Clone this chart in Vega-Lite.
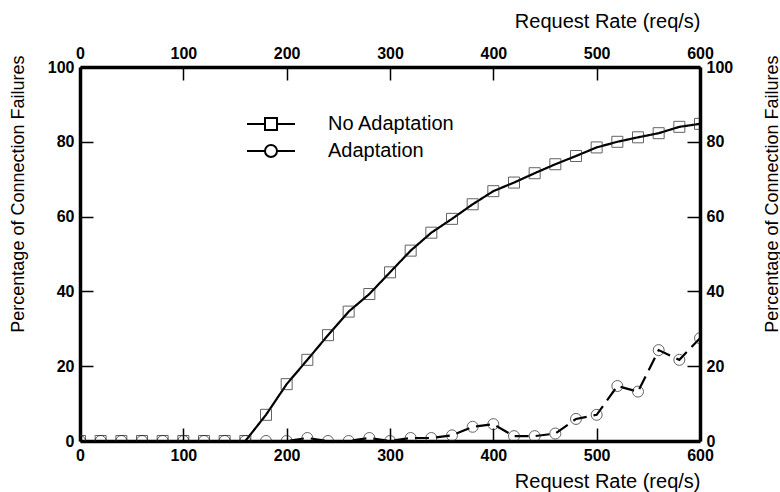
{
  "$schema": "https://vega.github.io/schema/vega-lite/v6.json",
  "width": 620,
  "height": 374,
  "autosize": {"type": "none"},
  "padding": {"left": 80, "top": 67, "right": 80, "bottom": 51},
  "background": "white",
  "config": {
    "view": {"stroke": null},
    "font": "Liberation Sans",
    "axis": {
      "grid": false,
      "domainColor": "black",
      "domainWidth": 3.5,
      "tickColor": "black",
      "tickWidth": 1.5,
      "tickSize": -13,
      "labelFont": "Liberation Sans",
      "labelFontWeight": "bold",
      "labelFontSize": 16,
      "labelColor": "black",
      "labelFlush": false,
      "labelOverlap": false,
      "labelPadding": 19,
      "titleFont": "Liberation Sans",
      "titleFontWeight": "normal",
      "titleFontSize": 20,
      "titleColor": "black",
      "titleAnchor": "end",
      "zindex": 1
    }
  },
  "data": {
    "values": [
      {"rate": 0, "pct": 0, "series": "No Adaptation"},
      {"rate": 20, "pct": 0, "series": "No Adaptation"},
      {"rate": 40, "pct": 0, "series": "No Adaptation"},
      {"rate": 60, "pct": 0, "series": "No Adaptation"},
      {"rate": 80, "pct": 0, "series": "No Adaptation"},
      {"rate": 100, "pct": 0, "series": "No Adaptation"},
      {"rate": 120, "pct": 0, "series": "No Adaptation"},
      {"rate": 140, "pct": 0, "series": "No Adaptation"},
      {"rate": 160, "pct": 0, "series": "No Adaptation"},
      {"rate": 180, "pct": 7.0, "series": "No Adaptation"},
      {"rate": 200, "pct": 15.2, "series": "No Adaptation"},
      {"rate": 220, "pct": 21.7, "series": "No Adaptation"},
      {"rate": 240, "pct": 28.3, "series": "No Adaptation"},
      {"rate": 260, "pct": 34.6, "series": "No Adaptation"},
      {"rate": 280, "pct": 39.3, "series": "No Adaptation"},
      {"rate": 300, "pct": 45.1, "series": "No Adaptation"},
      {"rate": 320, "pct": 50.9, "series": "No Adaptation"},
      {"rate": 340, "pct": 55.7, "series": "No Adaptation"},
      {"rate": 360, "pct": 59.4, "series": "No Adaptation"},
      {"rate": 380, "pct": 63.3, "series": "No Adaptation"},
      {"rate": 400, "pct": 66.8, "series": "No Adaptation"},
      {"rate": 420, "pct": 69.1, "series": "No Adaptation"},
      {"rate": 440, "pct": 71.6, "series": "No Adaptation"},
      {"rate": 460, "pct": 74.0, "series": "No Adaptation"},
      {"rate": 480, "pct": 76.2, "series": "No Adaptation"},
      {"rate": 500, "pct": 78.5, "series": "No Adaptation"},
      {"rate": 520, "pct": 80.0, "series": "No Adaptation"},
      {"rate": 540, "pct": 81.2, "series": "No Adaptation"},
      {"rate": 560, "pct": 82.3, "series": "No Adaptation"},
      {"rate": 580, "pct": 84.0, "series": "No Adaptation"},
      {"rate": 600, "pct": 84.8, "series": "No Adaptation"},
      {"rate": 0, "pct": 0, "series": "Adaptation"},
      {"rate": 20, "pct": 0, "series": "Adaptation"},
      {"rate": 40, "pct": 0, "series": "Adaptation"},
      {"rate": 60, "pct": 0, "series": "Adaptation"},
      {"rate": 80, "pct": 0, "series": "Adaptation"},
      {"rate": 100, "pct": 0, "series": "Adaptation"},
      {"rate": 120, "pct": 0, "series": "Adaptation"},
      {"rate": 140, "pct": 0, "series": "Adaptation"},
      {"rate": 160, "pct": 0, "series": "Adaptation"},
      {"rate": 180, "pct": 0, "series": "Adaptation"},
      {"rate": 200, "pct": 0, "series": "Adaptation"},
      {"rate": 220, "pct": 0.8, "series": "Adaptation"},
      {"rate": 240, "pct": 0, "series": "Adaptation"},
      {"rate": 260, "pct": 0, "series": "Adaptation"},
      {"rate": 280, "pct": 0.8, "series": "Adaptation"},
      {"rate": 300, "pct": 0, "series": "Adaptation"},
      {"rate": 320, "pct": 0.8, "series": "Adaptation"},
      {"rate": 340, "pct": 0.8, "series": "Adaptation"},
      {"rate": 360, "pct": 1.5, "series": "Adaptation"},
      {"rate": 380, "pct": 3.8, "series": "Adaptation"},
      {"rate": 400, "pct": 4.5, "series": "Adaptation"},
      {"rate": 420, "pct": 1.3, "series": "Adaptation"},
      {"rate": 440, "pct": 1.3, "series": "Adaptation"},
      {"rate": 460, "pct": 2.0, "series": "Adaptation"},
      {"rate": 480, "pct": 5.9, "series": "Adaptation"},
      {"rate": 500, "pct": 7.0, "series": "Adaptation"},
      {"rate": 520, "pct": 14.7, "series": "Adaptation"},
      {"rate": 540, "pct": 13.2, "series": "Adaptation"},
      {"rate": 560, "pct": 24.3, "series": "Adaptation"},
      {"rate": 580, "pct": 21.7, "series": "Adaptation"},
      {"rate": 600, "pct": 27.5, "series": "Adaptation"}
    ]
  },
  "layer": [
    {
      "mark": {"type": "line", "clip": true, "strokeWidth": 2.2, "color": "black"},
      "encoding": {
        "x": {"field": "rate", "type": "quantitative", "scale": {"domain": [0, 600], "nice": false},
              "axis": {"orient": "bottom", "values": [0, 100, 200, 300, 400, 500, 600], "title": "Request Rate (req/s)", "titlePadding": 8}},
        "y": {"field": "pct", "type": "quantitative", "scale": {"domain": [0, 100], "nice": false},
              "axis": {"orient": "left", "values": [0, 20, 40, 60, 80, 100], "title": "Percentage of Connection Failures", "titleFontSize": 18, "titleX": -62, "titleY": -12, "titleBaseline": "middle"}},
        "detail": {"field": "series"},
        "strokeDash": {"field": "series", "type": "nominal", "scale": {"domain": ["No Adaptation", "Adaptation"], "range": [[1, 0], [14, 7]]}, "legend": null}
      }
    },
    {
      "mark": {"type": "point", "clip": true, "filled": false, "strokeWidth": 1, "color": "#222", "size": 121},
      "encoding": {
        "x": {"field": "rate", "type": "quantitative", "scale": {"domain": [0, 600], "nice": false},
              "axis": {"orient": "top", "values": [0, 100, 200, 300, 400, 500, 600], "title": "Request Rate (req/s)", "titlePadding": 14}},
        "y": {"field": "pct", "type": "quantitative", "scale": {"domain": [0, 100], "nice": false},
              "axis": {"orient": "right", "values": [0, 20, 40, 60, 80, 100], "title": "Percentage of Connection Failures", "titleFontSize": 18, "titleAngle": 270, "titleX": 72, "titleY": -12, "titleBaseline": "middle"}},
        "shape": {"field": "series", "type": "nominal", "scale": {"domain": ["No Adaptation", "Adaptation"], "range": ["square", "circle"]}, "legend": null}
      }
    },
    {
      "mark": {"type": "point", "clip": true, "filled": false, "strokeWidth": 2, "color": "black", "opacity": 0, "size": 400},
      "encoding": {
        "x": {"field": "rate", "type": "quantitative", "scale": {"domain": [0, 600], "nice": false}, "axis": null},
        "y": {"field": "pct", "type": "quantitative", "scale": {"domain": [0, 100], "nice": false}, "axis": null},
        "shape": {"field": "series", "type": "nominal",
          "scale": {"domain": ["No Adaptation", "Adaptation"], "range": ["M-2.4,0H-0.6M0.6,0H2.4M-0.6,-0.6H0.6V0.6H-0.6Z", "M-2.4,0H-0.6M0.6,0H2.4M0.6,0A0.6,0.6 0 1,1 -0.6,0A0.6,0.6 0 1,1 0.6,0Z"]},
          "legend": {
            "orient": "none", "legendX": 180, "legendY": 46, "title": null, "padding": 0,
            "labelFont": "Liberation Sans", "labelFontSize": 20, "labelColor": "black", "labelOffset": 46,
            "symbolSize": 400, "symbolStrokeWidth": 2, "symbolStrokeColor": "black", "symbolFillColor": "transparent", "symbolOpacity": 1,
            "rowPadding": 6
          }}
      }
    }
  ],
  "resolve": {"scale": {"x": "independent", "y": "independent", "shape": "independent"}, "legend": {"shape": "independent", "strokeDash": "independent"}}
}
